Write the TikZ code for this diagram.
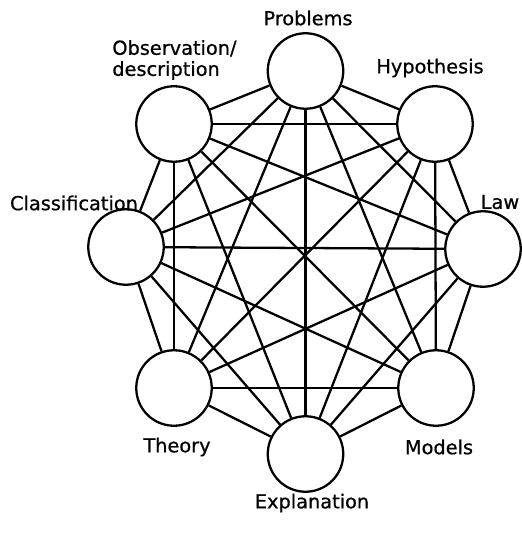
\documentclass[tikz,border=0pt]{standalone}
\usepackage{fontspec}
\setmainfont{DejaVu Sans}
\newfontfamily\tagfont{DejaVu Sans}[FakeBold=0.7]
\usetikzlibrary{positioning}
\tikzset{
  stage/.style={circle,draw=black,fill=white,line width=1.3pt,
                minimum size=1.51cm,inner sep=0pt},
  link/.style={line width=1.3pt,black},
  tag/.style={font=\tagfont\fontsize{11}{12}\selectfont,inner sep=0pt},
}

\begin{document}
\begin{tikzpicture}[x=0.02cm,y=-0.02cm]
  \useasboundingbox (0,0) rectangle (521,533);

  % the eight stages
  \node[stage] (prob)  at (305.5,71)  {};
  \node[stage] (hyp)   at (435,124)   {};
  \node[stage] (law)   at (483,249)   {};
  \node[stage] (mod)   at (436,388)   {};
  \node[stage] (expl)  at (305.5,454) {};
  \node[stage] (theo)  at (174,388)   {};
  \node[stage] (class) at (126,247)   {};
  \node[stage] (obs)   at (174,124)   {};

  % every stage linked to every other
  \foreach \a [count=\i] in {prob,hyp,law,mod,expl,theo,class,obs}
    \foreach \b [count=\j] in {prob,hyp,law,mod,expl,theo,class,obs}
      {\ifnum\j>\i \draw[link] (\a) -- (\b);\fi}

  \node[tag] (tProb)  at (308,18)  {Problems};
  \node[tag] (tHyp)   at (430,68)  {Hypothesis};
  \node[tag] (tLaw)   at (500,202) {Law};
  \node[tag] (tMod)   at (439,447) {Models};
  \node[tag] (tExpl)  at (312,503) {Explanation};
  \node[tag] (tTheo)  at (177,447) {Theory};
  \node[tag] (tClass) at (74,203)  {Classification};
  \node[tag,align=left,anchor=west] (tObs) at (112,60)
  {Observation/\\description};
\end{tikzpicture}
\end{document}
